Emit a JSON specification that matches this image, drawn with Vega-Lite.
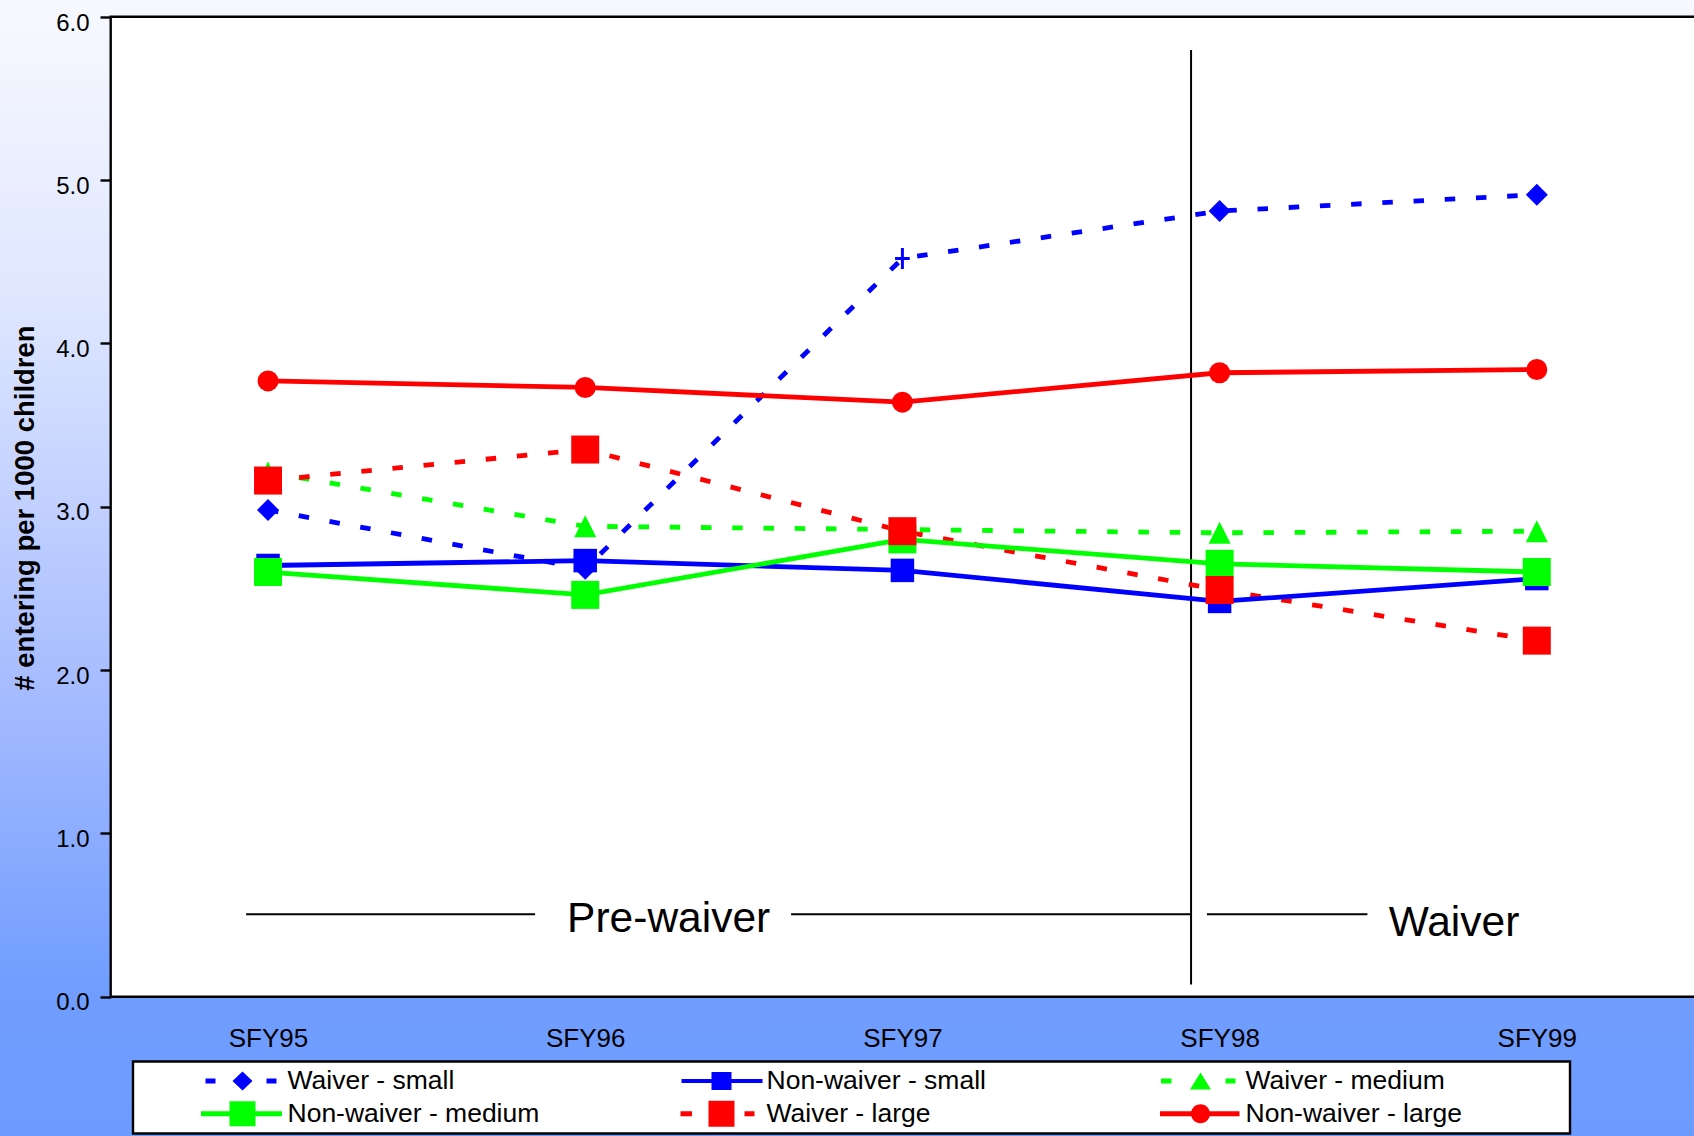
{
  "$schema": "https://vega.github.io/schema/vega-lite/v6.json",
  "width": 1694,
  "height": 1136,
  "autosize": "none",
  "padding": 0,
  "config": {
    "font": "Liberation Sans",
    "view": {
      "stroke": null,
      "fill": {
        "gradient": "linear",
        "x1": 0, "y1": 0, "x2": 0, "y2": 1,
        "stops": [
          {"offset": 0, "color": "#f8f9ff"},
          {"offset": 0.27, "color": "#dee6ff"},
          {"offset": 0.62, "color": "#a4baff"},
          {"offset": 0.87, "color": "#709dff"},
          {"offset": 1, "color": "#6e9bff"}
        ]
      }
    },
    "legend": {"strokeWidth": 2.4}
  },
  "resolve": {"axis": {"x": "independent", "y": "independent"}},
  "datasets": {
    "series": [
      {"series": "Waiver - small", "fy": 1995, "rate": 2.98},
      {"series": "Waiver - small", "fy": 1996, "rate": 2.62},
      {"series": "Waiver - small", "fy": 1997, "rate": 4.52},
      {"series": "Waiver - small", "fy": 1998, "rate": 4.81},
      {"series": "Waiver - small", "fy": 1999, "rate": 4.91},
      {"series": "Non-waiver - small", "fy": 1995, "rate": 2.64},
      {"series": "Non-waiver - small", "fy": 1996, "rate": 2.67},
      {"series": "Non-waiver - small", "fy": 1997, "rate": 2.61},
      {"series": "Non-waiver - small", "fy": 1998, "rate": 2.42},
      {"series": "Non-waiver - small", "fy": 1999, "rate": 2.56},
      {"series": "Waiver - medium", "fy": 1995, "rate": 3.21},
      {"series": "Waiver - medium", "fy": 1996, "rate": 2.88},
      {"series": "Waiver - medium", "fy": 1997, "rate": 2.86},
      {"series": "Waiver - medium", "fy": 1998, "rate": 2.84},
      {"series": "Waiver - medium", "fy": 1999, "rate": 2.85},
      {"series": "Non-waiver - medium", "fy": 1995, "rate": 2.60},
      {"series": "Non-waiver - medium", "fy": 1996, "rate": 2.46},
      {"series": "Non-waiver - medium", "fy": 1997, "rate": 2.80},
      {"series": "Non-waiver - medium", "fy": 1998, "rate": 2.65},
      {"series": "Non-waiver - medium", "fy": 1999, "rate": 2.60},
      {"series": "Waiver - large", "fy": 1995, "rate": 3.16},
      {"series": "Waiver - large", "fy": 1996, "rate": 3.35},
      {"series": "Waiver - large", "fy": 1997, "rate": 2.85},
      {"series": "Waiver - large", "fy": 1998, "rate": 2.49},
      {"series": "Waiver - large", "fy": 1999, "rate": 2.18},
      {"series": "Non-waiver - large", "fy": 1995, "rate": 3.77},
      {"series": "Non-waiver - large", "fy": 1996, "rate": 3.73},
      {"series": "Non-waiver - large", "fy": 1997, "rate": 3.64},
      {"series": "Non-waiver - large", "fy": 1998, "rate": 3.82},
      {"series": "Non-waiver - large", "fy": 1999, "rate": 3.84}
    ],
    "periodLines": [
      {"start": 1994.931, "end": 1995.842, "level": 0.505},
      {"start": 1996.649, "end": 1997.910, "level": 0.505},
      {"start": 1997.960, "end": 1998.466, "level": 0.505}
    ],
    "divider": [
      {"at": 1997.910, "from": 0.074, "to": 5.796}
    ],
    "periodLabels": [
      {"label": "Pre-waiver", "at": 1996.263, "level": 0.398},
      {"label": "Waiver", "at": 1998.739, "level": 0.372}
    ]
  },
  "layer": [
    {
      "data": {"values": [{}]},
      "mark": {"type": "rect", "fill": "white", "stroke": "black", "strokeWidth": 2.4},
      "encoding": {
        "x": {"datum": 1994.504, "type": "quantitative", "scale": {"domain": [1994.155, 1999.4956], "nice": false, "zero": false}, "axis": null},
        "x2": {"datum": 1999.7},
        "y": {"datum": 6, "type": "quantitative", "scale": {"domain": [-0.853, 6.1023], "nice": false, "zero": false}, "axis": null},
        "y2": {"datum": 0}
      }
    },
    {
      "data": {"name": "periodLines"},
      "mark": {"type": "rule", "stroke": "black", "strokeWidth": 2},
      "encoding": {
        "x": {"field": "start", "type": "quantitative", "scale": {"domain": [1994.155, 1999.4956], "nice": false, "zero": false}, "axis": null},
        "x2": {"field": "end"},
        "y": {"field": "level", "type": "quantitative", "scale": {"domain": [-0.853, 6.1023], "nice": false, "zero": false}, "axis": null}
      }
    },
    {
      "data": {"name": "divider"},
      "mark": {"type": "rule", "stroke": "black", "strokeWidth": 2},
      "encoding": {
        "x": {"field": "at", "type": "quantitative", "scale": {"domain": [1994.155, 1999.4956], "nice": false, "zero": false}, "axis": null},
        "y": {"field": "from", "type": "quantitative", "scale": {"domain": [-0.853, 6.1023], "nice": false, "zero": false}, "axis": null},
        "y2": {"field": "to"}
      }
    },
    {
      "data": {"name": "periodLabels"},
      "mark": {"type": "text", "fontSize": 42.5, "baseline": "alphabetic", "align": "center", "color": "black"},
      "encoding": {
        "x": {"field": "at", "type": "quantitative", "scale": {"domain": [1994.155, 1999.4956], "nice": false, "zero": false}, "axis": null},
        "y": {"field": "level", "type": "quantitative", "scale": {"domain": [-0.853, 6.1023], "nice": false, "zero": false}, "axis": null},
        "text": {"field": "label"}
      }
    },
    {
      "data": {"name": "series"},
      "transform": [{"filter": "indexof(datum.series, 'Non-waiver') !== 0"}],
      "mark": {"type": "line", "strokeWidth": 4.8, "strokeCap": "butt", "strokeDash": [10.5, 20.75]},
      "encoding": {
        "x": {
          "field": "fy", "type": "quantitative",
          "scale": {"domain": [1994.155, 1999.4956], "nice": false, "zero": false},
          "axis": {
            "orient": "bottom", "offset": -139.3, "values": [1995, 1996, 1997, 1998, 1999],
            "labelExpr": "'SFY' + substring(toString(datum.value), 2, 4)",
            "domain": false, "ticks": false, "tickSize": 0, "grid": false,
            "labelFontSize": 26, "labelColor": "black", "labelPadding": 50,
            "labelBaseline": "alphabetic", "labelFlush": false, "labelOverlap": false, "title": null
          }
        },
        "y": {
          "field": "rate", "type": "quantitative",
          "scale": {"domain": [-0.853, 6.1023], "nice": false, "zero": false},
          "axis": {
            "orient": "left", "offset": -110.7, "values": [0, 1, 2, 3, 4, 5, 6], "format": ".1f",
            "domain": false, "grid": false, "ticks": true, "tickSize": 10.7, "tickWidth": 2.4, "tickColor": "black",
            "labelFontSize": 24, "labelColor": "black", "labelPadding": 11, "labelBaseline": "alphabetic", "labelOffset": 13.3,
            "labelFlush": false, "labelOverlap": false,
            "title": "# entering per 1000 children", "titleFontSize": 27.5, "titleFontWeight": "bold", "titleColor": "black",
            "titleX": -77.4, "titleY": 507.5, "titleAngle": 270, "titleBaseline": "alphabetic", "titleAlign": "center"
          }
        },
        "color": {
          "field": "series", "type": "nominal",
          "scale": {
            "domain": ["Waiver - small", "Non-waiver - small", "Waiver - medium", "Non-waiver - medium", "Waiver - large", "Non-waiver - large"],
            "range": ["#0000ff", "#0000ff", "#00ff00", "#00ff00", "#ff0000", "#ff0000"]
          },
          "legend": {
            "orient": "none", "direction": "horizontal", "legendX": 133, "legendY": 1061.5, "columns": 3, "gridAlign": "all",
            "columnPadding": 12, "rowPadding": 6, "padding": 6, "title": null,
            "fillColor": "white", "strokeColor": "black",
            "labelFontSize": 26.5, "labelColor": "black", "labelLimit": 600,
            "symbolOffset": 90.25, "labelOffset": 31.75, "symbolSize": 4, "symbolStrokeWidth": 0,
            "encode": {
              "symbols": {
                "update": {
                  "shape": {"signal": "datum.value === 'Waiver - small' ? 'M363.5,0M-37,-2.5H-27V2.5H-37ZM24,-2.5H34V2.5H24ZM0,-9.5L10,0L0,9.5L-10,0Z' : datum.value === 'Non-waiver - small' ? 'M363.5,0M-40,-2H-10V2H-40ZM10,-2H41V2H10ZM-10,-9H10V9H-10Z' : datum.value === 'Waiver - medium' ? 'M363.5,0M-39.5,-2.5H-29V2.5H-39.5ZM25,-2.5H35V2.5H25ZM0,-8.5L10.5,8.5H-10.5Z' : datum.value === 'Non-waiver - medium' ? 'M363.5,0M-41.5,-2.5H-13V2.5H-41.5ZM13,-2.5H39.5V2.5H13ZM-13,-12.5H13V12.5H-13Z' : datum.value === 'Waiver - large' ? 'M363.5,0M-41,-2.5H-29.5V2.5H-41ZM23,-2.5H33V2.5H23ZM-13,-13H13V13H-13Z' : 'M363.5,0M-40.5,-2.5H-9V2.5H-40.5ZM9,-2.5H39V2.5H9ZM-9.5,0A9.5,9.5 0 1,1 9.5,0A9.5,9.5 0 1,1 -9.5,0Z'"},
                  "fill": {"signal": "scale('color', datum.value)"},
                  "strokeWidth": {"value": 0},
                  "size": {"value": 4},
                  "opacity": {"value": 1}
                }
              }
            }
          }
        }
      }
    },
    {
      "data": {"name": "series"},
      "transform": [{"filter": "indexof(datum.series, 'Non-waiver') === 0"}],
      "mark": {"type": "line", "strokeWidth": 4.8, "strokeCap": "butt"},
      "encoding": {
        "x": {"field": "fy", "type": "quantitative", "scale": {"domain": [1994.155, 1999.4956], "nice": false, "zero": false}, "axis": null},
        "y": {"field": "rate", "type": "quantitative", "scale": {"domain": [-0.853, 6.1023], "nice": false, "zero": false}, "axis": null},
        "color": {
          "field": "series", "type": "nominal",
          "scale": {
            "domain": ["Waiver - small", "Non-waiver - small", "Waiver - medium", "Non-waiver - medium", "Waiver - large", "Non-waiver - large"],
            "range": ["#0000ff", "#0000ff", "#00ff00", "#00ff00", "#ff0000", "#ff0000"]
          },
          "legend": null
        }
      }
    },
    {
      "data": {"name": "series"},
      "mark": {
        "type": "point", "filled": true, "opacity": 1, "strokeWidth": 0,
        "shape": {"expr": "datum.series === 'Waiver - small' ? (datum.fy === 1997 ? 'M-0.14,-1H0.14V-0.14H0.7V0.14H0.14V1H-0.14V0.14H-0.7V-0.14H-0.14Z' : 'diamond') : datum.series === 'Waiver - medium' ? 'M0,-1L1,1L-1,1Z' : datum.series === 'Non-waiver - large' ? 'circle' : 'square'"},
        "size": {"expr": "datum.series === 'Waiver - small' ? (datum.fy === 1997 ? 441 : 484) : datum.series === 'Non-waiver - small' ? 552 : datum.series === 'Waiver - medium' ? 484 : datum.series === 'Non-waiver - large' ? 441 : 784"}
      },
      "encoding": {
        "x": {"field": "fy", "type": "quantitative", "scale": {"domain": [1994.155, 1999.4956], "nice": false, "zero": false}, "axis": null},
        "y": {"field": "rate", "type": "quantitative", "scale": {"domain": [-0.853, 6.1023], "nice": false, "zero": false}, "axis": null},
        "color": {
          "field": "series", "type": "nominal",
          "scale": {
            "domain": ["Waiver - small", "Non-waiver - small", "Waiver - medium", "Non-waiver - medium", "Waiver - large", "Non-waiver - large"],
            "range": ["#0000ff", "#0000ff", "#00ff00", "#00ff00", "#ff0000", "#ff0000"]
          },
          "legend": null
        }
      }
    }
  ]
}
